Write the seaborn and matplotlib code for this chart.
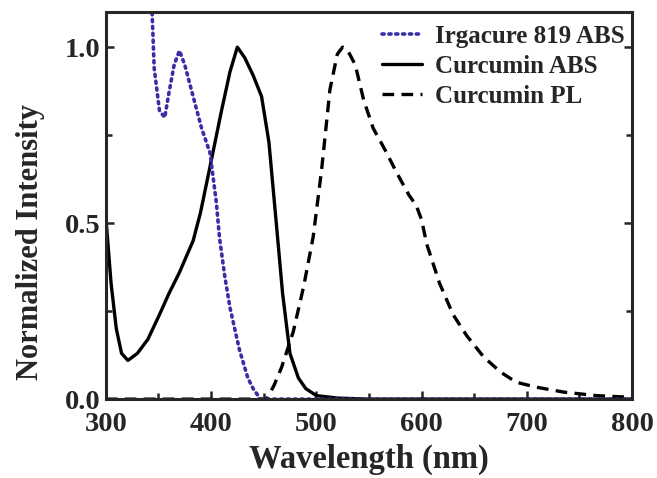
import numpy as np
import pandas as pd
import matplotlib
matplotlib.use('Agg')
import matplotlib.pyplot as plt
import seaborn as sns
from matplotlib.ticker import MultipleLocator

# Irgacure 819 absorption (dotted)
irg_wl = [340, 344, 346, 351, 356, 360, 365, 370, 375, 383, 391, 399, 405, 408, 413, 418, 427,
          435, 440, 447, 460, 500, 600, 700, 800]
irg_int = [1.25, 1.10, 0.94, 0.82, 0.80, 0.87, 0.95, 0.99, 0.95, 0.86, 0.77, 0.70, 0.56, 0.46,
           0.35, 0.26, 0.14, 0.06, 0.03, 0.0, 0.0, 0.0, 0.0, 0.0, 0.0]

# Curcumin absorption (solid)
abs_wl = [300, 305, 310, 315, 321, 330, 340, 351, 360, 370, 383, 390, 399, 410, 418, 425, 432,
          440, 448, 455, 462, 468, 475, 483, 490, 500, 520, 550, 650, 800]
abs_int = [0.52, 0.33, 0.20, 0.13, 0.11, 0.13, 0.17, 0.24, 0.30, 0.36, 0.45, 0.53, 0.66, 0.82,
           0.93, 1.00, 0.97, 0.92, 0.86, 0.73, 0.50, 0.30, 0.13, 0.06, 0.03, 0.01, 0.003, 0.0,
           0.0, 0.0]

# Curcumin photoluminescence (dashed)
pl_wl = [300, 400, 453, 460, 467, 478, 488, 497, 505, 513, 520, 525, 530, 537, 545, 554, 565,
         577, 588, 595, 600, 605, 617, 630, 643, 659, 675, 690, 709, 735, 766, 800]
pl_int = [0.0, 0.0, 0.0, 0.04, 0.09, 0.19, 0.32, 0.46, 0.65, 0.88, 0.98, 1.00, 0.99, 0.95, 0.85,
          0.77, 0.71, 0.64, 0.58, 0.55, 0.51, 0.44, 0.33, 0.24, 0.18, 0.12, 0.077, 0.048, 0.034,
          0.02, 0.01, 0.005]

sns.set_style('ticks')
plt.rcParams['font.family'] = ['Liberation Serif', 'DejaVu Serif']
plt.rcParams['font.weight'] = 'bold'

fig, ax = plt.subplots(figsize=(6.57, 4.78), dpi=100)
fig.subplots_adjust(left=0.161, right=0.962, bottom=0.165, top=0.975)

sns.lineplot(x=abs_wl, y=abs_int, ax=ax, color='black', lw=2.4, label='Curcumin ABS')
sns.lineplot(x=pl_wl, y=pl_int, ax=ax, color='black', lw=2.4, linestyle=(0, (3.5, 2.2)),
             label='Curcumin PL')
sns.lineplot(x=irg_wl, y=irg_int, ax=ax, color='#3a2ea6', lw=2.6, linestyle=(0, (0.6, 1.3)),
             dash_capstyle='round', label='Irgacure 819 ABS')

ax.set_xlim(300, 800)
ax.set_ylim(0, 1.1)
ax.xaxis.set_major_locator(MultipleLocator(100))
ax.xaxis.set_minor_locator(MultipleLocator(50))
ax.yaxis.set_major_locator(MultipleLocator(0.5))
ax.yaxis.set_minor_locator(MultipleLocator(0.25))
ax.tick_params(which='both', direction='in', right=True, width=1.8, labelsize=20.5)
ax.tick_params(axis='x', pad=9)
ax.tick_params(axis='y', pad=4)
ax.tick_params(which='major', length=6)
ax.tick_params(which='minor', length=4)
ax.yaxis.set_major_formatter(matplotlib.ticker.FormatStrFormatter('%.1f'))
for s in ax.spines.values():
    s.set_linewidth(2.2)

ax.set_xlabel('Wavelength (nm)', fontsize=23.5, fontweight='bold', labelpad=5)
ax.set_ylabel('Normalized Intensity', fontsize=22, fontweight='bold')
ax.yaxis.set_label_coords(-0.115, 0.405)

h, l = ax.get_legend_handles_labels()
order = [2, 0, 1]
ax.legend([h[i] for i in order], [l[i] for i in order], loc='upper right', frameon=False,
          fontsize=18, handlelength=1.6, handletextpad=0.5, labelspacing=0.28,
          borderaxespad=0.0, borderpad=0.2, bbox_to_anchor=(0.995, 0.98))

fig.savefig('out.png', dpi=100)
